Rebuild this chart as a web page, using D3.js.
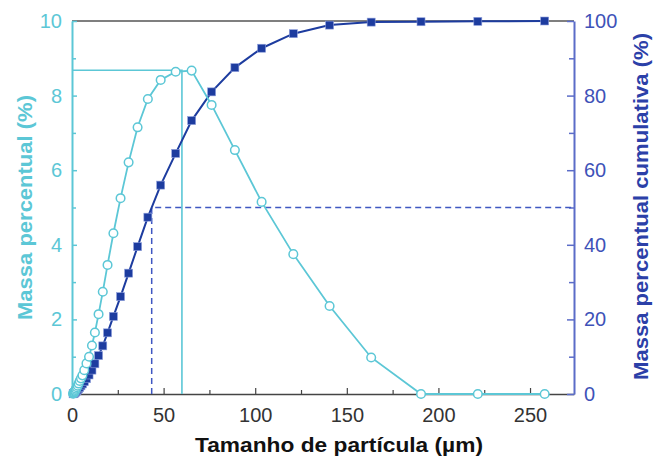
<!DOCTYPE html>
<html>
<head>
<meta charset="utf-8">
<script src="https://cdn.jsdelivr.net/npm/d3@7"></script>
<style>
  html, body { margin: 0; padding: 0; background: #fff; }
  svg { display: block; font-family: "Liberation Sans", Arial, sans-serif; }
</style>
</head>
<body>
<svg id="chart" width="654" height="460"></svg>
<script>
// Particle size (µm)
const sizes = [0.6, 0.8, 1.0, 1.2, 1.4, 1.6, 1.9, 2.2, 2.6, 3.1, 3.6, 4.2, 4.9, 5.7, 6.7, 7.9, 9.3, 10.9, 12.5, 14.5, 16.8, 19.4, 22.6, 26.5, 30.9, 35.8, 41.4, 48.4, 56.6, 65.3, 76.2, 88.9, 103.5, 120.8, 140.6, 163.3, 190.5, 221.5, 258];
// Mass percent (%)
const massPct = [0.01, 0.02, 0.03, 0.04, 0.06, 0.08, 0.11, 0.14, 0.18, 0.22, 0.28, 0.35, 0.42, 0.5, 0.64, 0.82, 1.0, 1.3, 1.65, 2.14, 2.74, 3.46, 4.31, 5.25, 6.21, 7.15, 7.91, 8.42, 8.64, 8.67, 7.75, 6.54, 5.15, 3.75, 2.36, 0.98, 0, 0, 0];
// Cumulative mass percent (%)
const cumPct = [0.05, 0.1, 0.15, 0.2, 0.3, 0.4, 0.5, 0.65, 0.85, 1.1, 1.4, 1.75, 2.2, 2.7, 3.3, 4.1, 5.1, 6.4, 8.1, 10.3, 12.9, 16.4, 20.8, 26.1, 32.4, 39.5, 47.4, 56.0, 64.5, 73.3, 81.0, 87.5, 92.7, 96.6, 98.9, 99.7, 99.8, 99.9, 100];
// Reference markers
const modeSize = 60, modePct = 8.68;
const d50Size = 43.5, d50Cum = 50;
const xTicks = [0, 50, 100, 150, 200, 250];
const yLeftTicks = [0, 2, 4, 6, 8, 10];
const yRightTicks = [0, 20, 40, 60, 80, 100];

const cCyan = "#5cc7d6", cBlue = "#1d3c9f", cBlueAxis = "#3e52b8", cDash = "#3f57c2";
const svg = d3.select("#chart");
const L = 72, R = 574, T = 21, B = 394;
const x = d3.scaleLinear().domain([0, 274]).range([L, R]);
const yL = d3.scaleLinear().domain([0, 10]).range([B, T]);
const yR = d3.scaleLinear().domain([0, 100]).range([B, T]);

// frame top
svg.append("line").attr("x1", L).attr("x2", R).attr("y1", T).attr("y2", T)
  .attr("stroke", "#555").attr("stroke-width", 1.5);

// bottom axis
const gx = svg.append("g").attr("transform", `translate(0,${B})`)
  .call(d3.axisBottom(x).tickValues(xTicks).tickSizeInner(-6).tickSizeOuter(0).tickPadding(14));
gx.select(".domain").attr("stroke", "#444").attr("stroke-width", 1.5);
gx.selectAll(".tick line").attr("stroke", "#444").attr("stroke-width", 1.2);
gx.selectAll("text").attr("font-size", 20).attr("fill", "#333").attr("font-family", "Liberation Sans, Arial, sans-serif");
const gxm = svg.append("g").attr("transform", `translate(0,${B})`)
  .call(d3.axisBottom(x).tickValues([25, 75, 125, 175, 225]).tickSizeInner(-4).tickSizeOuter(0).tickFormat(""));
gxm.select(".domain").remove();
gxm.selectAll(".tick line").attr("stroke", "#444").attr("stroke-width", 1.2);

// left axis
const gl = svg.append("g").attr("transform", `translate(${L},0)`)
  .call(d3.axisLeft(yL).tickValues(yLeftTicks).tickSizeInner(-5).tickSizeOuter(0).tickPadding(10));
gl.select(".domain").attr("stroke", cCyan).attr("stroke-width", 2);
gl.selectAll(".tick line").attr("stroke", cCyan).attr("stroke-width", 1.5);
gl.selectAll("text").attr("font-size", 20).attr("fill", cCyan).attr("font-family", "Liberation Sans, Arial, sans-serif");
const glm = svg.append("g").attr("transform", `translate(${L},0)`)
  .call(d3.axisLeft(yL).tickValues([1, 3, 5, 7, 9]).tickSizeInner(-4).tickSizeOuter(0).tickFormat(""));
glm.select(".domain").remove();
glm.selectAll(".tick line").attr("stroke", cCyan).attr("stroke-width", 1.5);

// right axis
const gr = svg.append("g").attr("transform", `translate(${R},0)`)
  .call(d3.axisRight(yR).tickValues(yRightTicks).tickSizeInner(-7).tickSizeOuter(0).tickPadding(10));
gr.select(".domain").attr("stroke", "#5b6cc8").attr("stroke-width", 2);
gr.selectAll(".tick line").attr("stroke", "#5b6cc8").attr("stroke-width", 1.5);
gr.selectAll("text").attr("font-size", 20).attr("fill", cBlueAxis).attr("font-family", "Liberation Sans, Arial, sans-serif");
const grm = svg.append("g").attr("transform", `translate(${R},0)`)
  .call(d3.axisRight(yR).tickValues([10, 30, 50, 70, 90]).tickSizeInner(-5).tickSizeOuter(0).tickFormat(""));
grm.select(".domain").remove();
grm.selectAll(".tick line").attr("stroke", "#5b6cc8").attr("stroke-width", 1.5);

// reference lines
svg.append("path")
  .attr("d", `M${x(0)},${yL(modePct)}H${x(modeSize)}V${yL(0)}`)
  .attr("fill", "none").attr("stroke", cCyan).attr("stroke-width", 1.6);
svg.append("path")
  .attr("d", `M${x(d50Size)},${yL(0)}V${yR(d50Cum)}H${x(274)}`)
  .attr("fill", "none").attr("stroke", cDash).attr("stroke-width", 1.5)
  .attr("stroke-dasharray", "6,4");

// cumulative series
const cumData = sizes.map((s, i) => [s, cumPct[i]]);
svg.append("path").datum(cumData)
  .attr("d", d3.line().x(d => x(d[0])).y(d => yR(d[1])))
  .attr("fill", "none").attr("stroke", cBlue).attr("stroke-width", 2);
svg.append("g").selectAll("rect").data(cumData).join("rect")
  .attr("x", d => x(d[0]) - 4).attr("y", d => yR(d[1]) - 4)
  .attr("width", 8).attr("height", 8)
  .attr("fill", cBlue).attr("stroke", "#8f9fdc").attr("stroke-width", 0.6);

// mass percent series
const pctData = sizes.map((s, i) => [s, massPct[i]]);
svg.append("path").datum(pctData)
  .attr("d", d3.line().x(d => x(d[0])).y(d => yL(d[1])))
  .attr("fill", "none").attr("stroke", cCyan).attr("stroke-width", 1.8);
svg.append("g").selectAll("circle").data(pctData).join("circle")
  .attr("cx", d => x(d[0])).attr("cy", d => yL(d[1])).attr("r", 4.3)
  .attr("fill", "#fff").attr("stroke", cCyan).attr("stroke-width", 1.5);

// titles
svg.append("text").attr("x", 339).attr("y", 452)
  .attr("text-anchor", "middle").attr("font-size", 20.5).attr("font-weight", "bold")
  .attr("textLength", 288).attr("lengthAdjust", "spacingAndGlyphs")
  .attr("fill", "#111").text("Tamanho de partícula (µm)");
svg.append("text").attr("transform", `translate(32,207.5) rotate(-90)`)
  .attr("text-anchor", "middle").attr("font-size", 20).attr("font-weight", "bold")
  .attr("textLength", 225).attr("lengthAdjust", "spacingAndGlyphs")
  .attr("fill", cCyan).text("Massa percentual (%)");
svg.append("text").attr("transform", `translate(648,206.5) rotate(-90)`)
  .attr("text-anchor", "middle").attr("font-size", 20).attr("font-weight", "bold")
  .attr("textLength", 347).attr("lengthAdjust", "spacingAndGlyphs")
  .attr("fill", "#2b40a8").text("Massa percentual cumulativa (%)");
</script>
</body>
</html>
